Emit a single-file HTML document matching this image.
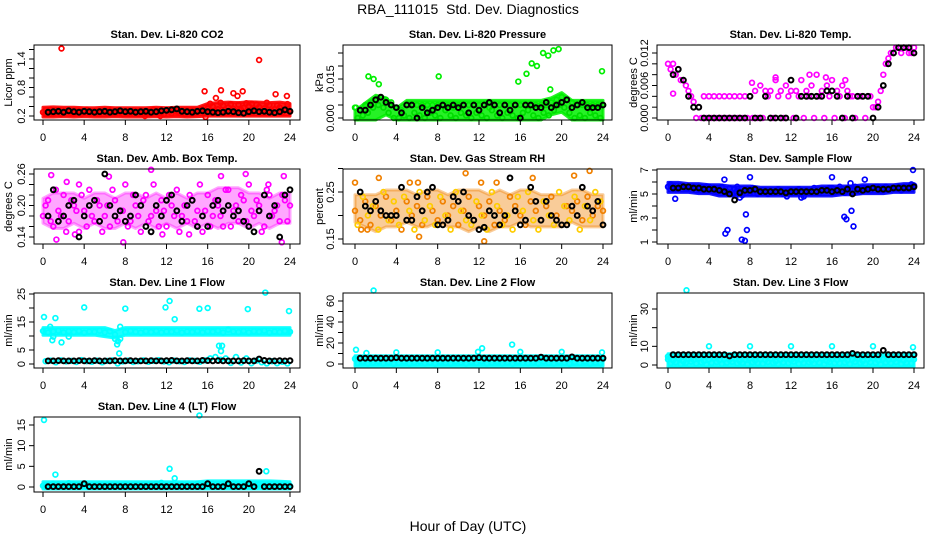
<!DOCTYPE html>
<html><head><meta charset="utf-8"><style>
html,body{margin:0;padding:0;background:#fff;width:936px;height:540px;overflow:hidden}
svg{display:block;font-family:"Liberation Sans",sans-serif}
</style></head><body>
<svg id="fig" width="936" height="540" viewBox="0 0 936 540" xmlns="http://www.w3.org/2000/svg">
<rect width="936" height="540" fill="#fff"/>
<text x="468" y="14" text-anchor="middle" font-size="14">RBA_111015&#160; Std. Dev. Diagnostics</text>
<text x="468" y="531" text-anchor="middle" font-size="14">Hour of Day (UTC)</text>
</svg>
<script>
// ---------- data ----------
const xTicks = [0,4,8,12,16,20,24];

const co2Main = [0.28,0.30,0.26,0.32,0.27,0.29,0.25,0.31,0.28,0.26,0.30,0.27,0.29,0.32,0.25,0.28,0.30,0.26,0.29,0.31,0.27,0.25,0.30,0.28,0.32,0.26,0.29,0.27,0.31,0.25,0.28,0.33,0.36,0.40,0.34,0.42,0.38,0.35,0.44,0.37,0.41,0.33,0.39,0.36,0.43,0.34,0.38,0.32,0.29];
const co2Alt = [0.25,0.33,0.29,0.24,0.31,0.27,0.30,0.24,0.33,0.29,0.25,0.31,0.26,0.28,0.32,0.24,0.27,0.31,0.25,0.30,0.28,0.33,0.26,0.24,0.30,0.32,0.27,0.24,0.29,0.31,0.30,0.28,0.46,0.30,0.48,0.28,0.45,0.30,0.33,0.47,0.29,0.44,0.31,0.48,0.30,0.42,0.28,0.45];
const co2BandHi = [0.34,0.35,0.34,0.34,0.33,0.33,0.34,0.33,0.33,0.33,0.33,0.34,0.33,0.34,0.34,0.34,0.42,0.44,0.45,0.44,0.46,0.45,0.44,0.45,0.42];
const co2BandLo = [0.22,0.22,0.23,0.22,0.23,0.22,0.22,0.23,0.22,0.22,0.22,0.23,0.22,0.23,0.22,0.23,0.24,0.24,0.24,0.24,0.24,0.24,0.24,0.24,0.24];
const co2OutHours = [1.8,21.0,15.7,17.3,19.4,16.8,18.5,18.9,22.6,23.7,20.3,15.8,9.9,11.4];
const co2OutValues = [1.62,1.38,0.72,0.74,0.72,0.58,0.68,0.62,0.66,0.62,0.46,0.18,0.20,0.20];
const co2Black = [0.28,0.29,0.30,0.28,0.31,0.29,0.28,0.30,0.29,0.28,0.29,0.30,0.28,0.29,0.31,0.29,0.30,0.28,0.29,0.30,0.28,0.29,0.31,0.32,0.33,0.35,0.30,0.29,0.28,0.30,0.31,0.29,0.28,0.27,0.28,0.30,0.29,0.27,0.26,0.29,0.31,0.29,0.30,0.28,0.27,0.29,0.33,0.30];

const presMain = [0.004,0.003,0.005,0.006,0.007,0.008,0.007,0.006,0.004,0.003,0.005,0.005,0.005,0.005,0.005,0.005,0.005,0.005,0.005,0.004,0.005,0.005,0.005,0.005,0.005,0.005,0.004,0.005,0.005,0.005,0.005,0.005,0.005,0.005,0.005,0.005,0.005,0.005,0.006,0.007,0.008,0.007,0.006,0.005,0.005,0.005,0.005,0.005,0.005];
const presAlt = [0.000,0.001,0.002,0.004,0.005,0.004,0.002,0.000,0.000,0.001,0.000,0.002,0.001,0.000,0.002,0.001,0.000,0.003,0.001,0.000,0.002,0.001,0.000,0.002,0.001,0.000,0.003,0.001,0.000,0.002,0.001,0.000,0.002,0.003,0.001,0.000,0.002,0.001,0.003,0.005,0.004,0.002,0.000,0.001,0.000,0.002,0.001,0.000];
const presBandHi = [0.002,0.005,0.008,0.007,0.003,0.006,0.006,0.006,0.006,0.006,0.006,0.006,0.006,0.006,0.006,0.006,0.006,0.006,0.006,0.007,0.009,0.006,0.006,0.006,0.006];
const presBandLo = [0.000,0.000,0.000,0.002,0.000,0.000,0.000,0.000,0.000,0.000,0.000,0.000,0.000,0.000,0.000,0.000,0.000,0.000,0.000,0.002,0.003,0.000,0.000,0.000,0.000];
const presOutHours = [0.1,1.3,1.8,2.3,8.1,15.8,16.6,17.1,17.6,18.2,18.7,19.2,19.7,18.9,23.9];
const presOutValues = [0.004,0.016,0.015,0.013,0.016,0.014,0.017,0.021,0.020,0.025,0.024,0.026,0.0265,0.011,0.018];
const presBlack = [0.003,0.003,0.005,0.007,0.008,0.006,0.005,0.004,0.002,0.005,0.005,0.000,0.004,0.002,0.003,0.004,0.005,0.004,0.005,0.004,0.005,0.002,0.005,0.003,0.005,0.006,0.005,0.002,0.005,0.003,0.005,0.000,0.005,0.005,0.004,0.004,0.006,0.004,0.005,0.006,0.007,0.004,0.005,0.006,0.004,0.004,0.004,0.005];

const tempMain = [0.010,0.010,0.009,0.007,0.005,0.003,0.002,0.004,0.004,0.004,0.004,0.004,0.004,0.004,0.004,0.004,0.004,0.005,0.006,0.005,0.005,0.007,0.005,0.006,0.005,0.005,0.007,0.005,0.006,0.008,0.005,0.006,0.007,0.005,0.006,0.005,0.004,0.004,0.004,0.004,0.002,0.003,0.008,0.011,0.012,0.013,0.013,0.012,0.013];
const tempAlt = [0.009,0.008,0.007,0.006,0.004,0.000,0.000,0.000,0.000,0.000,0.000,0.000,0.000,0.000,0.000,0.000,0.000,0.000,0.000,0.004,0.000,0.004,0.000,0.004,0.000,0.004,0.000,0.004,0.000,0.004,0.000,0.004,0.000,0.004,0.000,0.004,0.000,0.004,0.000,0.004,0.002,0.005,0.010,0.012,0.013,0.012,0.013,0.012];
const tempBandHi = [];
const tempBandLo = [];
const tempOutHours = [0.5,8.2,10.5,13.8,15.4,17.3];
const tempOutValues = [0.0045,0.0065,0.0075,0.008,0.0075,0.007];
const tempBlack = [0.008,0.009,0.007,0.004,0.002,0.002,0.000,0.000,0.000,0.000,0.000,0.000,0.000,0.000,0.000,0.004,0.000,0.000,0.004,0.000,0.000,0.000,0.000,0.007,0.000,0.004,0.004,0.004,0.004,0.004,0.005,0.005,0.004,0.000,0.004,0.000,0.004,0.004,0.004,0.000,0.002,0.006,0.010,0.012,0.013,0.013,0.013,0.012];

const ambMain = [0.18,0.21,0.16,0.19,0.22,0.17,0.20,0.15,0.19,0.23,0.17,0.20,0.18,0.16,0.21,0.19,0.24,0.17,0.20,0.15,0.22,0.18,0.19,0.21,0.16,0.20,0.23,0.18,0.17,0.21,0.19,0.15,0.22,0.18,0.20,0.16,0.23,0.19,0.17,0.21,0.24,0.18,0.20,0.16,0.22,0.19,0.17,0.21,0.20];
const ambAlt = [0.20,0.17,0.23,0.18,0.15,0.21,0.19,0.22,0.16,0.18,0.21,0.15,0.20,0.23,0.17,0.19,0.16,0.22,0.18,0.21,0.17,0.24,0.16,0.19,0.22,0.18,0.15,0.20,0.22,0.17,0.24,0.19,0.16,0.21,0.18,0.23,0.16,0.20,0.22,0.17,0.19,0.21,0.15,0.23,0.18,0.20,0.22,0.17];
const ambBandHi = [0.21,0.22,0.22,0.22,0.21,0.22,0.22,0.21,0.22,0.22,0.21,0.22,0.21,0.22,0.21,0.22,0.22,0.23,0.23,0.23,0.22,0.22,0.21,0.22,0.22];
const ambBandLo = [0.17,0.16,0.16,0.17,0.16,0.17,0.16,0.16,0.17,0.16,0.17,0.16,0.17,0.16,0.17,0.16,0.17,0.16,0.17,0.17,0.16,0.17,0.16,0.17,0.17];
const ambOutHours = [0.8,1.3,2.3,3.5,6.4,10.5,11.6,14.2,17.3,17.8,19.7,21.9,23.4,23.2,3.1,7.8];
const ambOutValues = [0.258,0.135,0.245,0.24,0.255,0.268,0.145,0.145,0.256,0.12,0.26,0.24,0.256,0.13,0.145,0.13];
const ambBlack = [0.18,0.23,0.17,0.18,0.20,0.21,0.14,0.18,0.20,0.21,0.17,0.26,0.20,0.18,0.19,0.17,0.18,0.22,0.20,0.16,0.15,0.20,0.18,0.21,0.22,0.19,0.17,0.20,0.21,0.16,0.18,0.16,0.20,0.21,0.19,0.20,0.18,0.19,0.17,0.16,0.15,0.19,0.22,0.18,0.20,0.14,0.22,0.23];

const rhMain = [0.21,0.19,0.23,0.18,0.22,0.20,0.24,0.19,0.21,0.17,0.23,0.20,0.22,0.18,0.24,0.21,0.19,0.23,0.20,0.22,0.18,0.21,0.24,0.19,0.22,0.20,0.23,0.18,0.21,0.19,0.24,0.22,0.20,0.18,0.23,0.21,0.19,0.22,0.24,0.20,0.18,0.22,0.21,0.23,0.19,0.24,0.20,0.22,0.21];
const rhAlt = [0.18,0.24,0.20,0.22,0.17,0.25,0.19,0.23,0.18,0.24,0.21,0.17,0.25,0.19,0.22,0.18,0.24,0.20,0.17,0.25,0.21,0.19,0.18,0.23,0.20,0.17,0.25,0.22,0.18,0.20,0.17,0.24,0.21,0.25,0.19,0.17,0.23,0.20,0.18,0.25,0.22,0.19,0.24,0.17,0.22,0.19,0.25,0.23];
const rhBandHi = [0.24,0.24,0.24,0.25,0.25,0.25,0.24,0.25,0.25,0.24,0.25,0.25,0.25,0.24,0.25,0.24,0.25,0.25,0.24,0.24,0.24,0.25,0.25,0.24,0.24];
const rhBandLo = [0.19,0.18,0.17,0.18,0.18,0.19,0.18,0.18,0.19,0.18,0.18,0.17,0.18,0.17,0.18,0.18,0.19,0.18,0.18,0.18,0.18,0.19,0.18,0.18,0.18];
const rhOutHours = [0,2.3,5.3,6.1,10.7,12.2,13.7,17.2,21.2,22.7,0.6,6.2,12.5,1.2];
const rhOutValues = [0.27,0.28,0.27,0.27,0.29,0.27,0.27,0.28,0.285,0.295,0.17,0.155,0.145,0.17];
const rhBlack = [0.25,0.22,0.21,0.23,0.21,0.20,0.20,0.20,0.26,0.19,0.19,0.24,0.21,0.25,0.26,0.18,0.18,0.19,0.24,0.23,0.25,0.20,0.19,0.17,0.175,0.21,0.20,0.18,0.20,0.28,0.21,0.18,0.19,0.26,0.23,0.19,0.23,0.20,0.19,0.18,0.18,0.22,0.20,0.26,0.22,0.21,0.23,0.18];

const flowMain = [5.6,5.7,5.5,5.6,5.5,5.6,5.4,5.5,5.6,5.5,5.4,5.3,5.5,5.4,5.2,5.3,5.1,5.3,5.2,5.3,5.2,5.2,5.3,5.2,5.2,5.3,5.2,5.3,5.2,5.2,5.3,5.4,5.5,5.3,5.4,5.5,5.4,5.5,5.4,5.5,5.5,5.6,5.5,5.4,5.5,5.6,5.5,5.6,5.7];
const flowAlt = [5.8,5.4,5.7,5.5,5.6,5.3,5.5,5.6,5.4,5.3,5.6,5.2,5.0,5.6,4.9,5.3,5.5,5.0,5.3,5.0,5.1,5.4,5.0,5.3,5.1,5.4,4.8,5.2,5.5,5.1,5.3,5.5,5.2,5.6,5.1,5.4,5.6,5.2,5.5,5.3,5.6,5.3,5.6,5.4,5.5,5.3,5.6,5.8];
const flowBandHi = [5.8,5.8,5.7,5.7,5.6,5.6,5.5,5.5,5.5,5.4,5.4,5.4,5.4,5.4,5.4,5.5,5.5,5.5,5.5,5.6,5.6,5.6,5.6,5.7,5.7];
const flowBandLo = [5.3,5.3,5.3,5.2,5.2,5.0,5.0,5.0,5.0,5.0,5.0,5.0,5.0,5.0,5.0,5.0,5.0,5.1,5.1,5.2,5.2,5.2,5.3,5.3,5.3];
const flowOutHours = [0.7,5.6,5.8,5.5,7.0,7.2,7.5,7.6,7.7,8.0,13.0,16.0,17.2,17.4,17.8,17.9,18.1,19.2,23.9,6.7,11.6];
const flowOutValues = [4.6,1.7,2.0,6.2,4.7,1.2,1.1,3.3,2.0,6.4,4.7,6.4,3.1,2.9,5.9,3.6,2.3,6.2,7.0,5.2,4.8];
const flowBlack = [5.5,5.5,5.6,5.6,5.5,5.5,5.4,5.4,5.4,5.3,5.2,5.0,4.5,5.1,5.3,5.3,5.4,5.2,5.2,5.2,5.2,5.2,5.1,5.2,5.2,5.2,5.2,5.2,5.2,5.3,5.3,5.2,5.3,5.2,5.4,5.0,5.4,5.3,5.4,5.5,5.4,5.4,5.4,5.5,5.5,5.5,5.5,5.6];

const l1Main = [11.8,11.2,11.6,11.9,11.3,11.7,11.4,11.8,11.2,11.6,11.5,11.9,11.3,11.7,10.5,9.0,11.4,11.8,11.5,11.2,11.7,11.4,11.8,11.3,11.6,11.5,11.9,11.2,11.6,11.4,11.8,11.3,11.7,11.5,11.9,11.2,12.3,11.6,11.4,11.8,11.3,11.7,11.5,11.9,11.2,11.6,11.4,11.8,11.5];
const l1Alt = [1.0,1.2,0.6,1.3,0.9,1.1,0.7,1.4,1.0,0.8,1.2,0.6,1.1,1.3,0.2,0.9,1.2,0.7,1.0,1.3,0.8,1.1,1.4,0.9,0.6,1.2,1.0,0.7,1.3,1.1,0.8,1.3,2.0,2.5,1.5,2.0,0.4,2.5,0.5,2.0,0.3,1.2,0.6,0.2,1.0,0.3,0.8,0.2];
const l1BandHi = [12.3,12.3,12.3,12.3,12.3,12.3,12.3,11.2,12.3,12.3,12.3,12.3,12.3,12.3,12.3,12.3,12.3,12.3,12.3,12.3,12.3,12.3,12.3,12.3,12.3];
const l1BandLo = [11.0,11.0,11.0,11.0,11.0,11.0,10.5,10.0,11.0,11.0,11.0,11.0,11.0,11.0,11.0,11.0,11.0,11.0,11.0,11.0,11.0,11.0,11.0,11.0,11.0];
const l1OutHours = [0.1,0.7,1.2,1.0,1.8,2.5,4.0,7.0,7.2,7.4,7.3,7.5,8.0,11.9,12.3,12.8,15.2,16.0,17.1,17.3,17.4,19.9,21.6,23.9,0.9];
const l1OutValues = [16.8,13.3,16.4,9.8,7.7,9.8,20.2,9.0,7.0,3.8,8.1,13.3,19.8,20.2,22.5,16.0,19.7,20.0,6.5,4.6,6.5,19.6,25.5,18.9,8.5];
const l1Black = [1.1,1.1,1.2,1.1,1.1,1.1,1.2,1.1,1.1,1.2,1.1,1.1,1.1,1.2,1.1,1.1,1.2,1.1,1.1,1.1,1.2,1.1,1.1,1.2,1.3,1.1,1.1,1.2,1.1,1.1,1.3,1.2,1.1,1.2,1.1,1.1,1.1,1.1,1.2,1.1,1.1,1.8,1.3,1.1,1.1,1.2,1.1,1.2];

const l2Main = [5.0,4.5,5.5,4.0,5.2,4.8,5.5,4.2,5.0,5.5,4.6,5.2,4.8,5.4,4.2,5.0,5.5,4.4,5.2,4.8,5.5,4.0,5.0,5.3,4.6,5.5,4.8,5.2,4.4,5.0,5.5,4.2,5.2,4.8,5.5,4.6,5.0,5.4,4.2,5.0,5.5,4.6,5.2,4.8,5.0,5.5,4.4,5.2,5.0];
const l2Alt = [1.0,2.0,0.5,1.5,2.5,0.8,1.8,0.3,1.2,2.2,0.6,1.6,2.4,0.9,1.4,0.4,2.0,1.1,0.7,2.3,1.5,0.5,1.9,1.0,2.6,0.6,1.3,2.1,0.8,1.7,0.4,2.2,1.2,0.9,1.8,0.5,2.4,1.1,0.7,2.0,1.4,0.3,1.9,1.0,2.3,0.6,1.5,0.9];
const l2BandHi = [6,6,6,6,6,6,6,6,6,6,6,6,6,6,6,6,6,6,6,6,6,6,6,6,6];
const l2BandLo = [0,0,0,0,0,0,0,0,0,0,0,0,0,0,0,0,0,0,0,0,0,0,0,0,0];
const l2OutHours = [0.1,1.8,1.1,4.0,8.0,11.9,12.3,15.2,16.0,20.0,23.9];
const l2OutValues = [13.5,70,10.5,11.0,11.0,11.5,15,18.5,11.5,11.5,11];
const l2Black = [5.5,5.5,5.5,5.5,5.5,5.5,5.5,6.0,5.5,5.5,5.5,5.5,5.5,5.5,5.5,5.5,5.5,5.5,5.5,5.5,5.5,5.5,5.5,6.0,5.5,5.5,5.5,5.5,5.5,5.5,5.5,5.5,5.5,5.5,5.5,6.5,5.5,5.5,5.5,5.5,5.5,6.8,5.5,5.5,5.5,5.5,5.5,5.5];

const l3Main = [3.0,2.5,3.5,2.0,3.2,2.8,3.5,2.2,3.0,3.5,2.6,3.2,2.8,3.4,2.2,3.0,3.5,2.4,3.2,2.8,3.5,2.0,3.0,3.3,2.6,3.5,2.8,3.2,2.4,3.0,3.5,2.2,3.2,2.8,3.5,2.6,3.0,3.4,2.2,3.0,3.5,2.6,3.2,2.8,3.0,3.5,2.4,3.2,3.0];
const l3Alt = [1.0,1.5,0.5,1.2,1.8,0.8,1.4,0.3,1.1,1.6,0.6,1.3,1.7,0.9,1.2,0.4,1.5,1.0,0.7,1.6,1.2,0.5,1.4,1.0,1.8,0.6,1.1,1.5,0.8,1.3,0.4,1.6,1.0,0.9,1.4,0.5,1.7,1.1,0.7,1.5,1.2,0.3,1.4,1.0,1.6,0.6,1.2,0.9];
const l3BandHi = [5,5,5,5,5,5,5,5,5,5,5,5,5,5,5,5,5,5,5,5,5,5,5,5,5];
const l3BandLo = [0,0,0,0,0,0,0,0,0,0,0,0,0,0,0,0,0,0,0,0,0,0,0,0,0];
const l3OutHours = [0,1.8,4,8,12,16,20,23.9];
const l3OutValues = [4.5,40,10,10,10,10,10,9.5];
const l3Black = [5.5,5.5,5.5,5.5,5.5,5.5,5.5,5.5,5.5,5.5,5.5,4.8,5.5,5.5,5.5,5.5,5.5,5.5,5.5,5.5,5.5,5.5,5.5,5.5,5.5,5.5,5.5,5.5,5.5,5.5,5.5,5.5,5.5,5.5,5.5,6.2,5.5,5.5,5.5,5.5,5.5,7.8,5.5,5.5,5.5,5.5,5.5,5.5];

const l4Main = [0.3,0.5,0.2,0.7,0.4,0.3,0.6,0.2,0.5,0.4,0.3,0.6,0.2,0.5,0.3,0.4,0.6,0.2,0.5,0.3,0.4,0.6,0.8,0.5,0.3,0.7,0.4,0.6,0.3,0.5,0.8,0.6,0.4,0.7,0.5,0.3,0.6,0.8,0.4,0.6,0.3,0.7,0.5,0.4,0.6,0.3,0.5,0.4,0.3];
const l4Alt = [0.1,0.2,0.0,0.1,0.2,0.1,0.0,0.2,0.1,0.0,0.1,0.2,0.0,0.1,0.2,0.1,0.0,0.1,0.2,0.0,0.1,0.2,0.1,0.0,0.2,0.1,0.0,0.1,0.2,0.1,0.0,0.2,0.1,0.0,0.1,0.2,0.1,0.0,0.2,0.1,0.0,0.1,0.2,0.0,0.1,0.2,0.1,0.0];
const l4BandHi = [0.8,0.8,0.8,0.8,0.8,0.8,0.8,0.8,0.8,0.8,0.8,0.8,0.8,0.8,0.8,0.8,1.0,1.0,1.0,1.0,1.0,1.0,1.0,0.9,0.8];
const l4BandLo = [0,0,0,0,0,0,0,0,0,0,0,0,0,0,0,0,0,0,0,0,0,0,0,0,0];
const l4OutHours = [0.1,1.2,12.3,12.8,15.2,21.7,1.0,2.5,11.5];
const l4OutValues = [16.2,3.0,4.4,2.1,17.3,3.8,0.8,0.9,1.0];
const l4Black = [0.1,0.1,0.1,0.1,0.1,0.1,0.1,0.8,0.1,0.1,0.1,0.1,0.1,0.1,0.1,0.1,0.1,0.1,0.1,0.1,0.1,0.1,0.1,0.1,0.1,0.1,0.1,0.1,0.1,0.1,0.1,0.8,0.1,0.1,0.1,0.8,0.1,0.1,0.1,0.8,0.1,3.8,0.1,0.1,0.1,0.1,0.1,0.1];

// ---------- layout ----------
const NS = "http://www.w3.org/2000/svg";
const svg = document.getElementById('fig');
const cols = [{l:34,r:300,x0:43,x24:290,yt:8},{l:343,r:612,x0:355,x24:603,yt:319},{l:657,r:924,x0:668,x24:914,yt:633}];
const rowTop = [45,169,293,417], rowBot = [120,244,368,492];

function mk(tag, attrs, parent){
  const e = document.createElementNS(NS, tag);
  for (const k in attrs) e.setAttribute(k, attrs[k]);
  (parent||svg).appendChild(e);
  return e;
}

const panels = [
 {name:'co2',title:'Stan. Dev. Li-820 CO2',ylab:'Licor ppm',c:0,r:0,v0:0.2,p0:116,v1:1.4,p1:59,ticks:[0.2,0.4,0.6,0.8,1.0,1.2,1.4,1.6],labels:['0.2','0.8','1.4'],col:'#ff0000',col2:'#ff0000',bo:0.9,main:co2Main,alt:co2Alt,bh:co2BandHi,bl:co2BandLo,oh:co2OutHours,ov:co2OutValues,blk:co2Black},
 {name:'pressure',title:'Stan. Dev. Li-820 Pressure',ylab:'kPa',c:1,r:0,v0:0,p0:118,v1:0.015,p1:79,ticks:[0,0.005,0.01,0.015,0.02,0.025],labels:['0.000','0.015'],col:'#00ee00',col2:'#00dd00',bo:0.85,main:presMain,alt:presAlt,bh:presBandHi,bl:presBandLo,oh:presOutHours,ov:presOutValues,blk:presBlack},
 {name:'li820-temp',title:'Stan. Dev. Li-820 Temp.',ylab:'degrees C',c:2,r:0,v0:0,p0:118,v1:0.012,p1:53,ticks:[0,0.002,0.004,0.006,0.008,0.01,0.012],labels:['0.000','0.006','0.012'],col:'#ff00ff',col2:'#ff00ff',bo:0,main:tempMain,alt:tempAlt,bh:tempBandHi,bl:tempBandLo,oh:tempOutHours,ov:tempOutValues,blk:tempBlack},
 {name:'amb-temp',title:'Stan. Dev. Amb. Box Temp.',ylab:'degrees C',c:0,r:1,v0:0.14,p0:237,v1:0.26,p1:174,ticks:[0.14,0.16,0.18,0.2,0.22,0.24,0.26],labels:['0.14','0.20','0.26'],col:'#ff00ff',col2:'#ff00ff',bo:0.35,main:ambMain,alt:ambAlt,bh:ambBandHi,bl:ambBandLo,oh:ambOutHours,ov:ambOutValues,blk:ambBlack},
 {name:'gas-rh',title:'Stan. Dev. Gas Stream RH',ylab:'percent',c:1,r:1,v0:0.15,p0:239,v1:0.25,p1:192,ticks:[0.15,0.2,0.25,0.3],labels:['0.15','0.25'],col:'#f08000',col2:'#ffcc00',bo:0.4,main:rhMain,alt:rhAlt,bh:rhBandHi,bl:rhBandLo,oh:rhOutHours,ov:rhOutValues,blk:rhBlack},
 {name:'sample-flow',title:'Stan. Dev. Sample Flow',ylab:'ml/min',c:2,r:1,v0:1,p0:242,v1:7,p1:170,ticks:[1,2,3,4,5,6,7],labels:['1','3','5','7'],col:'#0000ff',col2:'#0000ff',bo:0.9,main:flowMain,alt:flowAlt,bh:flowBandHi,bl:flowBandLo,oh:flowOutHours,ov:flowOutValues,blk:flowBlack},
 {name:'line1-flow',title:'Stan. Dev. Line 1 Flow',ylab:'ml/min',c:0,r:2,v0:0,p0:364,v1:25,p1:294,ticks:[0,5,10,15,20,25],labels:['0','5','15','25'],col:'#00ffff',col2:'#00ffff',bo:0.9,main:l1Main,alt:l1Alt,bh:l1BandHi,bl:l1BandLo,oh:l1OutHours,ov:l1OutValues,blk:l1Black},
 {name:'line2-flow',title:'Stan. Dev. Line 2 Flow',ylab:'ml/min',c:1,r:2,v0:0,p0:364,v1:60,p1:301,ticks:[0,10,20,30,40,50,60],labels:['0','20','40','60'],col:'#00ffff',col2:'#00ffff',bo:0.9,main:l2Main,alt:l2Alt,bh:l2BandHi,bl:l2BandLo,oh:l2OutHours,ov:l2OutValues,blk:l2Black},
 {name:'line3-flow',title:'Stan. Dev. Line 3 Flow',ylab:'ml/min',c:2,r:2,v0:0,p0:365,v1:30,p1:309,ticks:[0,10,20,30,40],labels:['0','10','30'],col:'#00ffff',col2:'#00ffff',bo:0.9,main:l3Main,alt:l3Alt,bh:l3BandHi,bl:l3BandLo,oh:l3OutHours,ov:l3OutValues,blk:l3Black},
 {name:'line4-flow',title:'Stan. Dev. Line 4 (LT) Flow',ylab:'ml/min',c:0,r:3,v0:0,p0:487,v1:15,p1:425,ticks:[0,5,10,15],labels:['0','5','10','15'],col:'#00ffff',col2:'#00ffff',bo:0.9,main:l4Main,alt:l4Alt,bh:l4BandHi,bl:l4BandLo,oh:l4OutHours,ov:l4OutValues,blk:l4Black}
];

function fmt(v,labels){
  for (const s of labels) if (Math.abs(parseFloat(s)-v) < 1e-9) return s;
  return null;
}

panels.forEach(p => {
  const C = cols[p.c], top = rowTop[p.r], bot = rowBot[p.r];
  const xs = h => C.x0 + (C.x24 - C.x0) * h / 24;
  const ys = v => p.p0 + (p.p1 - p.p0) * (v - p.v0) / (p.v1 - p.v0);
  const g = mk('g', {});
  
  
  const t = mk('text', {x:(C.l+C.r)/2, y:top-7, 'text-anchor':'middle', 'font-size':'11', 'font-weight':'bold'}, g);
  t.textContent = p.title;
  
  
  if (p.bh.length) {
    const up = p.bh.map((v,i) => `${xs(i).toFixed(1)},${(ys(v)-2).toFixed(1)}`);
    const dn = p.bl.map((v,i) => `${xs(i).toFixed(1)},${(ys(v)+2).toFixed(1)}`).reverse();
    const band = mk('polygon', {points: up.concat(dn).join(' '), fill:p.col, 'fill-opacity':p.bo, stroke:p.col, 'stroke-width':'3', 'stroke-opacity':p.bo, 'stroke-linejoin':'round'}, g);
    
    
  }
  const pts = mk('g', {fill:'none','stroke-width':'1.7'}, g);
  
  
  const dot = (h, v, col, nm, sw) => {
    const y = ys(v);
    if (y < top - 3 || y > bot + 3) return;
    const c = mk('circle', {cx:xs(h).toFixed(1), cy:y.toFixed(1), r:'2.4', stroke:col, 'stroke-width':sw}, pts);
    
    
  };
  p.main.forEach((v,i) => dot(i*0.5, v, p.col, p.name + '-point', 1.7));
  p.alt.forEach((v,i) => dot(0.25 + i*0.5, v, p.col2, p.name + '-point', 1.7));
  p.oh.forEach((h,i) => dot(h, p.ov[i], p.col, p.name + '-outlier', 1.7));
  p.blk.forEach((v,i) => dot(0.5 + i*0.5, v, '#000', p.name + '-hourly-point', 2));
  const box = mk('rect', {x:C.l, y:top, width:C.r-C.l, height:bot-top, fill:'none', stroke:'#000', 'stroke-width':'1'}, g);
  
  
  const xa = mk('g', {}, g);
  
  
  xTicks.forEach(h => {
    mk('line', {x1:xs(h), x2:xs(h), y1:bot, y2:bot+5, stroke:'#000'}, xa);
    const tx = mk('text', {x:xs(h), y:bot+21, 'text-anchor':'middle', 'font-size':'11'}, xa);
    tx.textContent = h;
  });
  const ya = mk('g', {}, g);
  
  
  p.ticks.forEach(v => {
    const y = ys(v);
    if (y < top - 1 || y > bot + 1) return;
    mk('line', {x1:C.l-5, x2:C.l, y1:y, y2:y, stroke:'#000'}, ya);
    const lab = fmt(v, p.labels);
    if (lab !== null) {
      const tx = mk('text', {x:C.l-9, y:y, 'text-anchor':'middle', 'font-size':'11', transform:`rotate(-90 ${C.l-9} ${y})`}, ya);
      tx.textContent = lab;
    }
  });
  const yl = mk('text', {x:C.yt+4, y:(top+bot)/2, 'text-anchor':'middle', 'font-size':'11', transform:`rotate(-90 ${C.yt+4} ${(top+bot)/2})`}, g);
  yl.textContent = p.ylab;
  
  
});
</script>
</body></html>
